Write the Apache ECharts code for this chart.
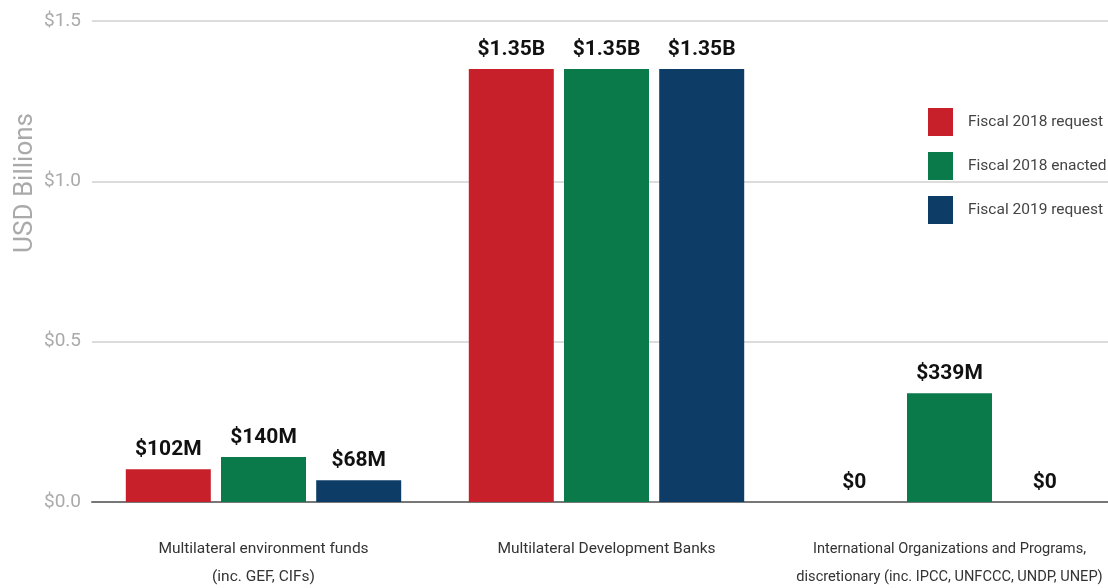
<!DOCTYPE html>
<html><head><meta charset="utf-8">
<script src="https://cdn.jsdelivr.net/npm/echarts@6/dist/echarts.min.js"></script>
<style>html,body{margin:0;padding:0;background:#fff}#c{width:1108px;height:588px}</style>
</head><body><div id="c"></div>
<script>
var categories = ["Multilateral environment funds\n(inc. GEF, CIFs)", "Multilateral Development Banks", "International Organizations and Programs,\ndiscretionary (inc. IPCC, UNFCCC, UNDP, UNEP)"];
var seriesNames = ["Fiscal 2018 request", "Fiscal 2018 enacted", "Fiscal 2019 request"];
var req2018 = [0.102, 1.35, 0];
var enacted2018 = [0.140, 1.35, 0.339];
var req2019 = [0.068, 1.35, 0];
var labels2018req = ["$102M", "$1.35B", "$0"];
var labels2018enacted = ["$140M", "$1.35B", "$339M"];
var labels2019req = ["$68M", "$1.35B", "$0"];
var colors = ["#c8202a", "#0a7a4b", "#0d3d66"];

var FONT = "Roboto, sans-serif";
function mk(name, data, labs, color) {
  return {
    name: name, type: 'bar', data: data, barWidth: 85, barGap: '12%',
    itemStyle: {color: color},
    label: {show: true, position: 'top', distance: 9, color: '#111', fontFamily: FONT, fontWeight: 'bold', fontSize: 21,
      formatter: function (p) { return labs[p.dataIndex]; }}
  };
}
var catData = categories.map(function (c, i) {
  return i === 2 ? {value: c, textStyle: {fontSize: 14.6}} : c;
});
var chart = echarts.init(document.getElementById('c'));
chart.setOption({
  animation: false,
  color: colors,
  grid: {left: 92, top: 21, bottom: 86, width: 1029, containLabel: false, outerBoundsMode: 'none'},
  legend: {
    orient: 'vertical', left: 928, top: 108, padding: 0, itemWidth: 25, itemHeight: 28, itemGap: 16,
    icon: 'rect', textStyle: {fontFamily: FONT, fontSize: 15.5, color: '#444', padding: [0, 0, 0, 10]},
    data: seriesNames
  },
  xAxis: {
    type: 'category', data: catData,
    axisLine: {lineStyle: {color: '#777', width: 2}},
    axisTick: {show: false},
    axisLabel: {interval: 0, margin: 33, fontFamily: FONT, fontSize: 15.5, color: '#333', lineHeight: 28}
  },
  yAxis: {
    type: 'value', min: 0, max: 1.5, interval: 0.5,
    axisLine: {show: false}, axisTick: {show: false},
    splitLine: {lineStyle: {color: '#dcdcdc', width: 2}},
    axisLabel: {margin: 11, fontFamily: FONT, fontSize: 19, color: '#aaa',
      formatter: function (v) { return '$' + v.toFixed(1); }}
  },
  graphic: [{
    type: 'text', left: 12, top: 113, rotation: Math.PI / 2,
    style: {text: 'USD Billions', fontFamily: FONT, fontSize: 26, fill: '#aaa'}
  }],
  series: [
    mk(seriesNames[0], req2018, labels2018req, colors[0]),
    mk(seriesNames[1], enacted2018, labels2018enacted, colors[1]),
    mk(seriesNames[2], req2019, labels2019req, colors[2])
  ]
});
</script></body></html>
